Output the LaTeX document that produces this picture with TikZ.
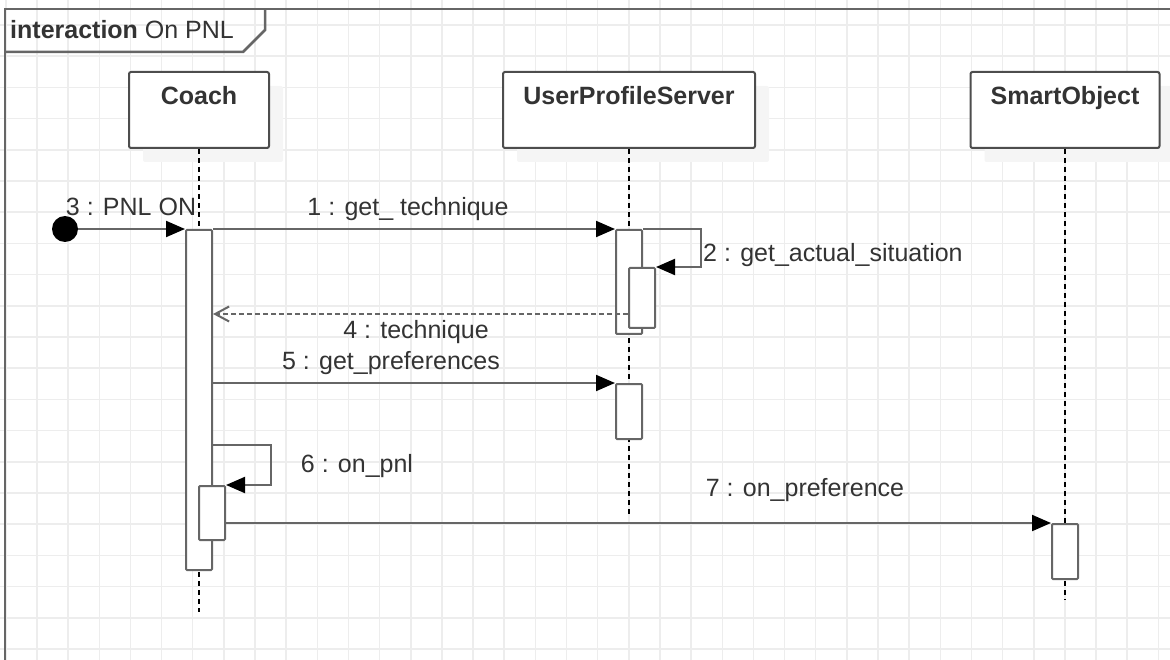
\documentclass[tikz,border=0pt]{standalone}
\usepackage{fontspec}
\setmainfont{Liberation Sans}
\usetikzlibrary{arrows.meta}
\usetikzlibrary{calc}
\usetikzlibrary{shadows}

\definecolor{gridgray}{HTML}{EDEDED}
\definecolor{linegray}{HTML}{666666}
\definecolor{boxgray}{HTML}{4D4D4D}
\definecolor{textgray}{HTML}{333333}
\newcommand{\diagfont}{\fontsize{25}{30}\selectfont}

\tikzset{
  head/.style={draw=boxgray, line width=2pt, fill=white, rounded corners=2pt,
    minimum height=76pt, inner sep=0pt, text height=17pt, text depth=27pt,
    font=\diagfont\bfseries, text=textgray,
    general shadow={fill=black!4, shadow xshift=14pt, shadow yshift=-14pt}},
  act/.style={draw=linegray, line width=2pt, fill=white, rounded corners=1pt,
    minimum width=26pt, inner sep=0pt, anchor=north},
  lifeline/.style={line width=1.6pt, dash pattern=on 5pt off 4pt},
  msg/.style={draw=linegray, line width=2pt,
    -{Triangle[length=19pt,width=16pt,color=black]}},
  reply/.style={draw=linegray, line width=2pt, dash pattern=on 5pt off 3pt,
    -{Straight Barb[length=14pt,width=15pt]}},
  lbl/.style={text=textgray, inner sep=0pt, anchor=base, font=\diagfont},
  frameline/.style={draw=linegray, line width=2.5pt},
  gridline/.style={draw=gridgray, line width=1.5pt}
}

\begin{document}
\begin{tikzpicture}[x=1pt,y=-1pt]
  \useasboundingbox (0,0) rectangle (1170,660);
  % grid
  \foreach \gx in {5.8,36.95,...,1170}
    \draw [gridline] (\gx,0) -- (\gx,660);
  \foreach \gy in {25,56.2,...,660}
    \draw [gridline] (0,\gy) -- (1170,\gy);

  % frame and tab
  \draw [frameline] (5,660) -- (5,9) -- (1170,9);
  \draw [frameline] (5,52) -- (243,52) -- (265,30) -- (265,9);
  \node [lbl, anchor=base west] (title) at (10,39) {\textbf{interaction} On PNL};

  % lifelines
  \node [head, minimum width=140pt] (coach) at (199,110) {Coach};
  \node [head, minimum width=252pt] (ups) at (629,110) {UserProfileServer};
  \node [head, minimum width=189pt] (smart) at (1065,110) {SmartObject};
  \draw [lifeline] (coach) -- (199,612);
  \draw [lifeline] (ups) -- (629,517);
  \draw [lifeline] (smart) -- (1065,600);

  % activations
  \node [act, minimum height=340pt] (a0) at (199,229) {};
  \node [act, minimum height=104pt] (a1) at (629,229) {};
  \node [act, minimum height=60pt] (a2) at (642,267) {};
  \node [act, minimum height=55pt] (a3) at (629,383) {};
  \node [act, minimum height=54pt] (a4) at (212,485) {};
  \node [act, minimum height=55pt] (a5) at (1065,523) {};

  % messages
  \node [circle, fill=black, minimum size=26pt, inner sep=0pt] (start) at (65,229) {};
  \draw [msg] (start) -- (a0.north west);
  \draw [msg] (a0.north east) -- (a1.north west);
  \draw [msg] (a1.north east) -- ++(58,0) |- (a2.north east);
  \coordinate (r4) at ($(a2.south west)+(0,-15)$);
  \draw [reply] (r4) -- (a0.east |- r4);
  \draw [msg] (a0.east |- a3.north) -- (a3.north west);
  \coordinate (s6) at ($(a0.north east)+(0,216)$);
  \draw [msg] (s6) -- ++(58,0) |- (a4.north east);
  \draw [msg] (a4.east |- a5.north) -- (a5.north west);

  % labels
  \node [lbl] (l3) at (131,216) {3 : PNL ON};
  \node [lbl] (l1) at (408,216) {1 : get\_ technique};
  \node [lbl, anchor=base west] (l2) at (703,262) {2 : get\_actual\_situation};
  \node [lbl] (l4) at (416,338) {4 : technique};
  \node [lbl] (l5) at (391,370) {5 : get\_preferences};
  \node [lbl] (l6) at (357,472) {6 : on\_pnl};
  \node [lbl] (l7) at (805,496) {7 : on\_preference};
\end{tikzpicture}
\end{document}
